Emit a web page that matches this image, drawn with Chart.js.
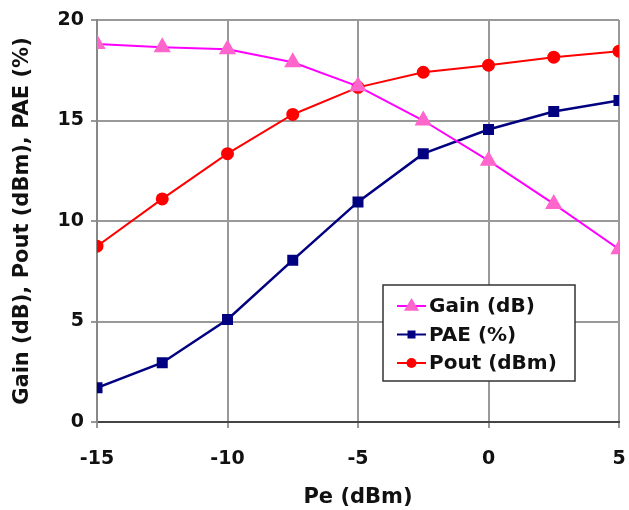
<!DOCTYPE html>
<html>
<head>
<meta charset="utf-8">
<script src="https://cdn.jsdelivr.net/npm/chart.js@4.4.1/dist/chart.umd.min.js"></script>
<style>
  html, body { margin: 0; padding: 0; background: #fff; }
  #wrap { width: 629px; height: 510px; }
</style>
</head>
<body>
<div id="wrap"><canvas id="chart" width="629" height="510"></canvas></div>
<script>
// Datos
const peValues = [-15, -12.5, -10, -7.5, -5, -2.5, 0, 2.5, 5];
const gainValues = [18.8, 18.65, 18.55, 17.9, 16.7, 15.0, 13.0, 10.85, 8.6];
const paeValues = [1.7, 2.95, 5.1, 8.05, 10.95, 13.35, 14.55, 15.45, 16.0];
const poutValues = [8.75, 11.1, 13.35, 15.3, 16.65, 17.4, 17.75, 18.15, 18.45];

const seriesNames = ['Gain (dB)', 'PAE (%)', 'Pout (dBm)'];
const xTitle = 'Pe (dBm)';
const yTitle = 'Gain (dB), Pout (dBm), PAE (%)';

const FONT = 'DejaVu Sans';

function toPoints(values) {
    return peValues.map((x, i) => ({ x: x, y: values[i] }));
}

// Leyenda dibujada dentro del área del gráfico
const boxLegend = {
    id: 'boxLegend',
    afterDraw(chart) {
        const ctx = chart.ctx;
        const left = 383, top = 285, width = 192, height = 96;
        ctx.save();
        ctx.fillStyle = '#fff';
        ctx.fillRect(left, top, width, height);
        ctx.strokeStyle = '#333';
        ctx.lineWidth = 1.5;
        ctx.strokeRect(left, top, width, height);

        ctx.font = 'bold 20px "' + FONT + '"';
        ctx.textBaseline = 'middle';
        chart.data.datasets.forEach((ds, i) => {
            const y = top + 21 + i * 28.5;
            ctx.strokeStyle = ds.borderColor;
            ctx.lineWidth = 2;
            ctx.beginPath();
            ctx.moveTo(left + 14, y);
            ctx.lineTo(left + 43, y);
            ctx.stroke();
            const cx = left + 28.5;
            ctx.fillStyle = ds.pointBackgroundColor;
            ctx.beginPath();
            if (ds.pointStyle === 'triangle') {
                const r = ds.pointRadius;
                ctx.moveTo(cx, y - r);
                ctx.lineTo(cx + r * 0.95, y + r * 0.6);
                ctx.lineTo(cx - r * 0.95, y + r * 0.6);
                ctx.closePath();
            } else if (ds.pointStyle === 'rect') {
                ctx.rect(cx - 4, y - 4, 8, 8);
            } else {
                ctx.arc(cx, y, 5, 0, Math.PI * 2);
            }
            ctx.fill();
            ctx.fillStyle = '#111';
            ctx.fillText(seriesNames[i], left + 46, y + 1);
        });
        ctx.restore();
    }
};

const ctx = document.getElementById('chart').getContext('2d');
new Chart(ctx, {
    type: 'line',
    data: {
        datasets: [
            {
                label: seriesNames[0],
                data: toPoints(gainValues),
                borderColor: '#ff00ff',
                backgroundColor: '#ff66cc',
                pointBackgroundColor: '#ff66cc',
                pointBorderColor: '#ff66cc',
                pointStyle: 'triangle',
                pointRadius: 8,
                borderWidth: 2
            },
            {
                label: seriesNames[1],
                data: toPoints(paeValues),
                borderColor: '#000080',
                backgroundColor: '#000080',
                pointBackgroundColor: '#000080',
                pointBorderColor: '#000080',
                pointStyle: 'rect',
                pointRadius: 6,
                borderWidth: 2.5
            },
            {
                label: seriesNames[2],
                data: toPoints(poutValues),
                borderColor: '#ff0000',
                backgroundColor: '#ff0000',
                pointBackgroundColor: '#ff0000',
                pointBorderColor: '#ff0000',
                pointStyle: 'circle',
                pointRadius: 5.5,
                borderWidth: 2
            }
        ]
    },
    options: {
        responsive: false,
        animation: false,
        layout: { padding: { left: 0, right: 4, top: 20, bottom: 0 } },
        plugins: { legend: { display: false }, tooltip: { enabled: false } },
        scales: {
            x: {
                type: 'linear',
                min: -15,
                max: 5,
                afterFit(scale) {
                    scale.height = 88;
                    scale.paddingLeft = 0;
                    scale.paddingRight = 0;
                },
                ticks: {
                    stepSize: 5,
                    padding: 20,
                    color: '#111',
                    font: { family: FONT, size: 19, weight: 'bold' }
                },
                grid: { color: '#999', lineWidth: 2, tickLength: 6 },
                border: { color: '#444', width: 2 },
                title: {
                    display: true,
                    text: xTitle,
                    color: '#111',
                    padding: { top: 0, bottom: 0 },
                    font: { family: FONT, size: 21, weight: 'bold' }
                }
            },
            y: {
                min: 0,
                max: 20,
                afterFit(scale) {
                    scale.width = 97;
                    scale.paddingTop = 0;
                    scale.paddingBottom = 0;
                },
                ticks: {
                    stepSize: 5,
                    padding: 7,
                    color: '#111',
                    font: { family: FONT, size: 19, weight: 'bold' }
                },
                grid: { color: '#999', lineWidth: 2, tickLength: 6 },
                border: { color: '#888', width: 2 },
                title: {
                    display: true,
                    text: yTitle,
                    color: '#111',
                    padding: { top: 10, bottom: 0 },
                    font: { family: FONT, size: 21, weight: 'bold' }
                }
            }
        }
    },
    plugins: [boxLegend]
});
</script>
</body>
</html>
